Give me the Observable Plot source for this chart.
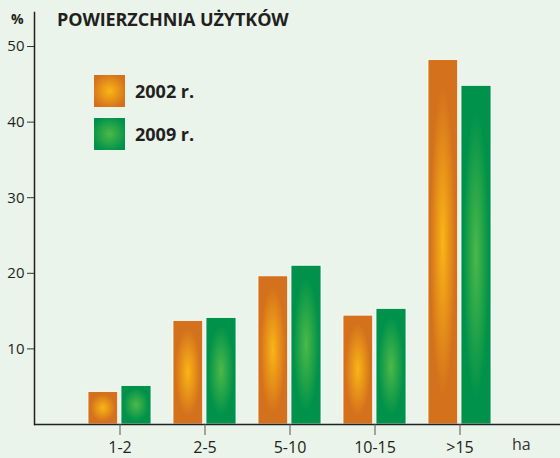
<!DOCTYPE html>
<html>
<head>
<meta charset="utf-8">
<script src="https://cdn.jsdelivr.net/npm/d3@7"></script>
<script src="https://cdn.jsdelivr.net/npm/@observablehq/plot@0.6"></script>
<style>
  html, body { margin: 0; padding: 0; background: #eaf4ea; }
  #wrap { position: relative; width: 560px; height: 458px; background: #eaf4ea; font-family: "Open Sans", "Liberation Sans", Arial, sans-serif; color: #231f20; overflow: hidden; }
  #wrap svg { position: absolute; left: 0; top: 0; }
  .ov { position: absolute; white-space: nowrap; line-height: 1; }
  .title { left: 57px; top: 10px; font-size: 18px; font-weight: bold; letter-spacing: -0.1px; }
  .pct { left: 11px; top: 12px; font-size: 14px; font-weight: bold; }
  .ha { left: 512px; top: 436px; font-size: 16px; color: #333; }
  .sw { position: absolute; width: 31px; height: 32px; }
  .sw.o { background: radial-gradient(circle at 50% 50%, #fbb516 0%, #d4711c 80%); }
  .sw.g { background: radial-gradient(circle at 50% 50%, #4db848 0%, #00924a 80%); }
  .lg { position: absolute; font-size: 18px; font-weight: bold; line-height: 1; }
</style>
</head>
<body>
<div id="wrap"></div>
<script>
const categories = ["1-2", "2-5", "5-10", "10-15", ">15"];
const values2002 = [4.3, 13.7, 19.6, 14.4, 48.2];
const values2009 = [5.1, 14.1, 21.0, 15.3, 44.8];
const yTicks = [10, 20, 30, 40, 50];
const seriesLabels = ["2002 r.", "2009 r."];
const titleText = "POWIERZCHNIA UŻYTKÓW";
const yUnit = "%";
const xUnit = "ha";

const rows2002 = categories.map((c, i) => ({cat: c, v: values2002[i]}));
const rows2009 = categories.map((c, i) => ({cat: c, v: values2009[i]}));

const chart = Plot.plot({
  width: 560,
  height: 458,
  marginLeft: 34,
  marginRight: 0,
  marginTop: 12,
  marginBottom: 34,
  style: {background: "transparent", fontFamily: "'Open Sans', 'Liberation Sans', Arial, sans-serif", color: "#231f20"},
  x: {domain: categories, paddingInner: 0.254, paddingOuter: 0.692, align: 0.438, label: null},
  y: {domain: [0, 54.5], label: null},
  marks: [
    Plot.barY(rows2002, {x: "cat", y: "v", fill: "url(#gradO)", stroke: "#ffffff", strokeWidth: 0.8, insetRight: 33.3}),
    Plot.barY(rows2009, {x: "cat", y: "v", fill: "url(#gradG)", stroke: "#ffffff", strokeWidth: 0.8, insetLeft: 33}),
    Plot.ruleY([0], {stroke: "#231f20", strokeWidth: 1.5}),
    Plot.frame({anchor: "left", stroke: "#231f20", strokeWidth: 1.5}),
    Plot.axisY({ticks: yTicks, tickSize: 7, tickPadding: 3, fontSize: 15, stroke: "#333", label: null, tickFormat: d => String(d)}),
    Plot.axisX({tickSize: 11, tickPadding: 6, fontSize: 16, stroke: "#555", label: null})
  ]
});

// radial gradients for the bars
const defs = d3.select(chart).insert("defs", ":first-child");
function grad(id, c0, c1) {
  const g = defs.append("radialGradient").attr("id", id).attr("cx", "50%").attr("cy", "50%").attr("r", "50%");
  g.append("stop").attr("offset", "0%").attr("stop-color", c0);
  g.append("stop").attr("offset", "85%").attr("stop-color", c1);
}
grad("gradO", "#fbb516", "#d4711c");
grad("gradG", "#4db848", "#00924a");

const wrap = document.getElementById("wrap");
wrap.appendChild(chart);

function ov(cls, text, extra) {
  const d = document.createElement("div");
  d.className = cls;
  d.textContent = text;
  if (extra) Object.assign(d.style, extra);
  wrap.appendChild(d);
  return d;
}
ov("ov title", titleText);
ov("ov pct", yUnit);
ov("ov ha", xUnit);
ov("sw o", "", {left: "94px", top: "75px"});
ov("sw g", "", {left: "94px", top: "118px"});
ov("lg", seriesLabels[0], {left: "135px", top: "82px"});
ov("lg", seriesLabels[1], {left: "135px", top: "125px"});
</script>
</body>
</html>
